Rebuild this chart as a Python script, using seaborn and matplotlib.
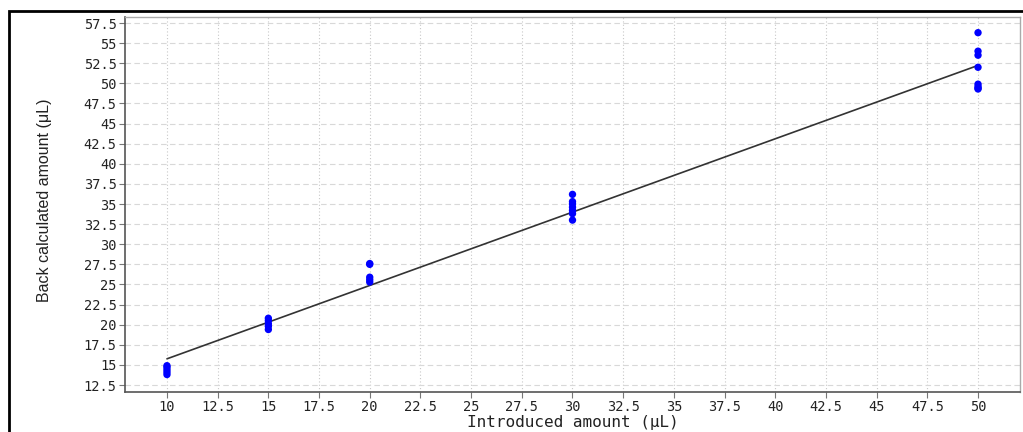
import numpy as np
import pandas as pd
import matplotlib
matplotlib.use("Agg")
import matplotlib.pyplot as plt
import seaborn as sns
from matplotlib.patches import Rectangle

introduced = [10] * 5 + [15] * 5 + [20] * 5 + [30] * 7 + [50] * 8
back_calculated = [
    13.8, 14.1, 14.4, 14.7, 14.9,
    19.4, 19.8, 20.1, 20.5, 20.8,
    25.3, 25.6, 25.9, 27.5, 27.6,
    33.0, 33.8, 34.2, 34.6, 35.0, 35.3, 36.2,
    49.3, 49.4, 49.6, 49.9, 52.0, 53.5, 54.0, 56.3,
]
x_ticks = [10 + 2.5 * i for i in range(17)]
y_ticks = [12.5 + 2.5 * i for i in range(19)]

df = pd.DataFrame({"introduced": introduced, "back": back_calculated})

sns.set_style("white")
plt.rcParams["font.family"] = ["DejaVu Sans"]

fig = plt.figure(figsize=(10.23, 4.32), dpi=100)
ax = fig.add_axes([125 / 1023, 1 - 392 / 432, (1020 - 125) / 1023, (392 - 17) / 432])

# outer frame
fig.patches.append(Rectangle((9 / 1023, -0.1), 1.2, 1.1 - 11 / 432,
                             transform=fig.transFigure, fill=False,
                             edgecolor="black", linewidth=2, zorder=0))

sns.regplot(data=df, x="introduced", y="back", ci=None, scatter=False, ax=ax,
            line_kws=dict(color="#333333", linewidth=1.2))
sns.scatterplot(data=df, x="introduced", y="back", ax=ax, color="#0000ff",
                marker="o", s=28, edgecolor="none", zorder=3)

ax.set_xlim(7.93, 52.07)
ax.set_ylim(11.63, 58.25)
ax.set_xticks(x_ticks)
ax.set_xticklabels([f"{v:g}" for v in x_ticks], family="DejaVu Sans Mono")
ax.set_yticks(y_ticks)
ax.set_yticklabels([f"{v:g}" for v in y_ticks], family="DejaVu Sans Mono")

ax.yaxis.grid(True, linestyle=(0, (5, 3)), color="#d8d8d8", linewidth=0.8)
ax.xaxis.grid(True, linestyle=(0, (1, 2)), color="#c8c8c8", linewidth=0.8)
ax.set_axisbelow(True)

for side in ["left", "bottom"]:
    ax.spines[side].set_color("#555555")
    ax.spines[side].set_linewidth(1.2)
for side in ["right", "top"]:
    ax.spines[side].set_color("#aaaaaa")
    ax.spines[side].set_linewidth(1.0)

ax.tick_params(axis="both", which="major", direction="out", length=4, width=0.8,
               color="#777777", labelsize=9.8, labelcolor="#222222", pad=2)
ax.tick_params(axis="x", pad=1.5)
ax.tick_params(left=True, bottom=True)

ax.set_xlabel("Introduced amount (μL)", fontsize=11.5, family="DejaVu Sans Mono",
              color="#222222")
ax.xaxis.set_label_coords(0.5, -30 / 375)
ax.xaxis.label.set_va("center")

ax.set_ylabel("Back calculated amount (μL)", fontsize=11.5,
              family=["Liberation Sans", "DejaVu Sans"], color="#222222")
ax.yaxis.set_label_coords(-80 / 895, 0.51)
ax.yaxis.label.set_va("center")
ax.yaxis.label.set_ha("center")

fig.savefig("out.png", dpi=100)
